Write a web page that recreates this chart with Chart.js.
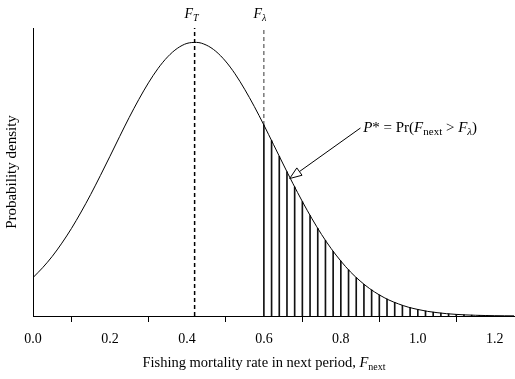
<!DOCTYPE html>
<html>
<head>
<meta charset="utf-8">
<script src="https://cdn.jsdelivr.net/npm/chart.js@4/dist/chart.umd.min.js"></script>
<style>
html,body{margin:0;padding:0;background:#fff;}
#wrap{width:515px;height:379px;position:relative;}
</style>
</head>
<body>
<div id="wrap"><canvas id="c" width="515" height="379"></canvas></div>
<script>
// ---- data ----
const fValues = [0,0.025,0.05,0.075,0.1,0.125,0.15,0.175,0.2,0.225,0.25,0.275,0.3,0.325,0.35,0.375,0.4,0.425,0.45,0.475,0.5,0.525,0.55,0.575,0.6,0.625,0.65,0.675,0.7,0.725,0.75,0.775,0.8,0.825,0.85,0.875,0.9,0.925,0.95,0.975,1.0,1.025,1.05,1.075,1.1,1.125,1.15,1.175,1.2,1.225,1.25];
const density = [0.264,0.332,0.410,0.501,0.602,0.715,0.836,0.965,1.098,1.233,1.365,1.489,1.603,1.702,1.782,1.840,1.874,1.881,1.863,1.820,1.753,1.665,1.559,1.441,1.313,1.179,1.045,0.913,0.787,0.669,0.560,0.463,0.378,0.303,0.241,0.188,0.145,0.110,0.083,0.061,0.045,0.032,0.023,0.016,0.011,0.0075,0.005,0.0033,0.0022,0.0014,0.0009];
const hatchF = [0.60,0.62,0.64,0.66,0.68,0.70,0.72,0.74,0.76,0.78,0.80,0.82,0.84,0.86,0.88,0.90,0.92,0.94,0.96,0.98,1.00,1.02,1.04,1.06,1.08,1.10,1.12,1.14,1.16,1.18];
const hatchDensity = [1.313,1.206,1.098,0.992,0.887,0.787,0.691,0.602,0.520,0.445,0.378,0.317,0.264,0.218,0.179,0.145,0.117,0.093,0.0735,0.0575,0.0446,0.0343,0.0261,0.0198,0.0148,0.0110,0.0081,0.0059,0.0043,0.0030];
const fTarget = 0.42;
const fLimit = 0.60;
const fLimitDensity = 1.313;
const xTickValues = [0,0.2,0.4,0.6,0.8,1.0,1.2];
const xMin = 0, xMax = 1.25, yMin = 0, yMax = 1.98;

const SERIF = '"Liberation Serif", "DejaVu Serif", serif';

function drawRich(ctx, x, y, segs, size, align) {
  const sub = Math.round(size * 0.72);
  let widths = segs.map(s => {
    ctx.font = (s.italic ? 'italic ' : '') + (s.sub ? sub : size) + 'px ' + SERIF;
    return ctx.measureText(s.t).width;
  });
  const total = widths.reduce((a, b) => a + b, 0);
  let cx = align === 'center' ? x - total / 2 : x;
  ctx.textBaseline = 'alphabetic';
  ctx.textAlign = 'left';
  segs.forEach((s, i) => {
    ctx.font = (s.italic ? 'italic ' : '') + (s.sub ? sub : size) + 'px ' + SERIF;
    ctx.fillText(s.t, cx, y + (s.sub ? Math.round(size * 0.22) : 0));
    cx += widths[i];
  });
}

const annotPlugin = {
  id: 'annot',
  afterDraw(chart) {
    const ctx = chart.ctx;
    const xs = chart.scales.x, ys = chart.scales.y;
    ctx.save();
    ctx.fillStyle = '#000';
    // marker labels
    drawRich(ctx, xs.getPixelForValue(fTarget) - 3, 18,
      [{t:'F', italic:true},{t:'T', italic:true, sub:true}], 14, 'center');
    drawRich(ctx, xs.getPixelForValue(fLimit) - 4, 18,
      [{t:'F', italic:true},{t:'λ', italic:true, sub:true}], 14, 'center');
    // annotation text
    drawRich(ctx, xs.getPixelForValue(0.858), ys.getPixelForValue(1.265),
      [{t:'P', italic:true},{t:'* = Pr('},{t:'F', italic:true},{t:'next', sub:true},
       {t:' > '},{t:'F', italic:true},{t:'λ', italic:true, sub:true},{t:')'}], 15, 'left');
    // arrow
    const tx = xs.getPixelForValue(0.667), ty = ys.getPixelForValue(0.945);
    const sx = xs.getPixelForValue(0.851), sy = ys.getPixelForValue(1.2925);
    const dx = sx - tx, dy = sy - ty, L = Math.hypot(dx, dy);
    const ux = dx / L, uy = dy / L;
    const hl = 12, hw = 4.5;
    const bx = tx + ux * hl, by = ty + uy * hl;
    ctx.strokeStyle = '#000';
    ctx.lineWidth = 1;
    ctx.beginPath();
    ctx.moveTo(sx, sy);
    ctx.lineTo(bx, by);
    ctx.stroke();
    ctx.beginPath();
    ctx.moveTo(tx, ty);
    ctx.lineTo(bx - uy * hw, by + ux * hw);
    ctx.lineTo(bx + uy * hw, by - ux * hw);
    ctx.closePath();
    ctx.fillStyle = '#fff';
    ctx.fill();
    ctx.stroke();
    // x axis title
    ctx.fillStyle = '#000';
    drawRich(ctx, 264, 367,
      [{t:'Fishing mortality rate in next period, '},{t:'F', italic:true},{t:'next', sub:true}], 14.5, 'center');
    ctx.restore();
  }
};

new Chart(document.getElementById('c'), {
  type: 'line',
  data: {
    datasets: [
      {
        type: 'line',
        data: fValues.map((f, i) => ({x: f, y: density[i]})),
        borderColor: '#000', borderWidth: 1, pointRadius: 0,
        cubicInterpolationMode: 'monotone', fill: false, order: 0
      },
      {
        type: 'bar',
        data: hatchF.map((f, i) => ({x: f, y: hatchDensity[i]})),
        backgroundColor: '#111', borderWidth: 0, barThickness: 1, order: 2
      },
      {
        type: 'line',
        data: [{x: fTarget, y: yMin}, {x: fTarget, y: yMax}],
        borderColor: '#000', borderWidth: 1.5, borderDash: [4, 3], pointRadius: 0, order: 1
      },
      {
        type: 'line',
        data: [{x: fLimit, y: fLimitDensity}, {x: fLimit, y: yMax}],
        borderColor: '#000', borderWidth: 0.8, borderDash: [4, 3], pointRadius: 0, order: 1
      }
    ]
  },
  options: {
    responsive: false,
    animation: false,
    layout: {padding: {top: 28, right: 1, left: 0, bottom: 0}},
    plugins: {legend: {display: false}, tooltip: {enabled: false}},
    scales: {
      x: {
        type: 'linear', min: xMin, max: xMax, offset: false,
        afterBuildTicks(s) { s.ticks = xTickValues.map(v => ({value: v})); },
        afterFit(s) { s.height = 63; },
        grid: {display: true, drawOnChartArea: false, drawTicks: true, tickLength: 6, color: '#000', lineWidth: 1},
        border: {display: true, color: '#000', width: 1},
        ticks: {
          color: '#000', padding: 9, maxRotation: 0,
          font: {family: SERIF, size: 14},
          callback: v => Number(v).toFixed(1)
        }
      },
      y: {
        min: yMin, max: yMax,
        afterFit(s) { s.width = 33; },
        grid: {display: false},
        border: {display: true, color: '#000', width: 1},
        ticks: {display: false},
        title: {display: true, text: 'Probability density', color: '#000',
                font: {family: SERIF, size: 15}, padding: {top: 3, bottom: 0}}
      }
    }
  },
  plugins: [annotPlugin]
});
</script>
</body>
</html>
